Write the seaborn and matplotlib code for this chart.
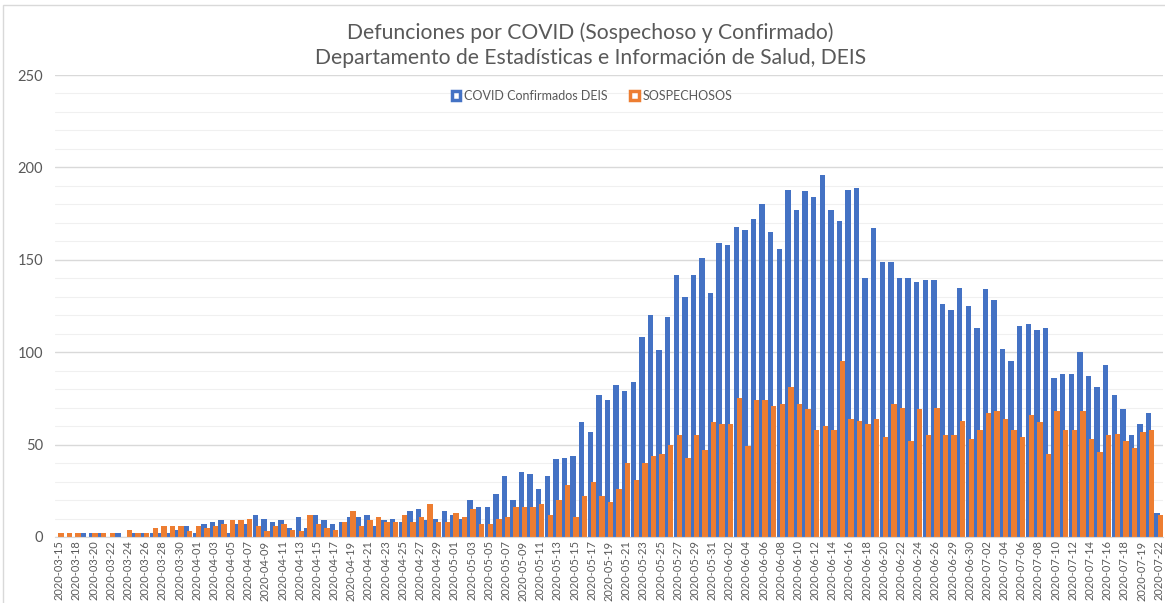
import seaborn as sns
import pandas as pd
import matplotlib.pyplot as plt
from matplotlib.patches import Patch, Rectangle

# fechas (categorias del eje x, solo se muestra una de cada dos)
fechas = (["2020-03-15", "2020-03-17"]
          + list(pd.date_range("2020-03-18", "2020-06-26").strftime("%Y-%m-%d"))
          + ["2020-06-27", "2020-06-29", "2020-06-28", "2020-06-30", "2020-07-01"]
          + list(pd.date_range("2020-07-02", "2020-07-18").strftime("%Y-%m-%d"))
          + ["2020-07-20", "2020-07-19", "2020-07-21", "2020-07-22"])

confirmados = [0, 0, 0, 2, 2, 2, 0, 2, 0, 2, 2, 2, 2, 2, 4, 6, 2, 7, 8, 9,
               2, 7, 7, 12, 10, 8, 9, 5, 11, 5, 12, 9, 7, 8, 11, 11, 12, 6, 9, 10,
               8, 14, 15, 9, 10, 14, 12, 10, 20, 16, 16, 23, 33, 20, 35, 34, 26, 33, 42, 43,
               44, 62, 57, 77, 74, 82, 79, 84, 108, 120, 101, 119, 142, 130, 142, 151, 132, 159, 158, 168,
               166, 172, 180, 165, 156, 188, 177, 187, 184, 196, 177, 171, 188, 189, 140, 167, 149, 149, 140, 140,
               138, 139, 139, 126, 123, 135, 125, 113, 134, 128, 102, 95, 114, 115, 112, 113, 86, 88, 88, 100,
               87, 81, 93, 77, 69, 55, 61, 67, 13]

sospechosos = [2, 2, 2, 0, 2, 2, 2, 0, 4, 2, 2, 5, 6, 6, 6, 3, 6, 5, 6, 7,
               9, 9, 10, 6, 3, 6, 7, 4, 3, 12, 7, 5, 4, 8, 14, 6, 9, 11, 8, 8,
               12, 8, 11, 18, 8, 8, 13, 11, 15, 7, 7, 10, 11, 16, 16, 16, 18, 12, 20, 28,
               11, 22, 30, 22, 19, 26, 40, 31, 40, 44, 45, 50, 55, 43, 55, 47, 62, 61, 61, 75,
               49, 74, 74, 71, 72, 81, 72, 69, 58, 60, 58, 95, 64, 63, 61, 64, 54, 72, 70, 52,
               69, 55, 70, 55, 55, 63, 53, 58, 67, 68, 64, 58, 54, 66, 62, 45, 68, 58, 58, 68,
               53, 46, 55, 56, 52, 48, 57, 58, 12]

series = ["COVID Confirmados DEIS", "SOSPECHOSOS"]
colores = ["#4472C4", "#ED7D31"]

df = pd.DataFrame({"fecha": fechas * 2,
                   "valor": confirmados + sospechosos,
                   "serie": [series[0]] * len(fechas) + [series[1]] * len(fechas)})

sns.set_style("white")
plt.rcParams["font.family"] = ["Lato", "DejaVu Sans"]

W, H = 1165, 603
fig = plt.figure(figsize=(W / 100, H / 100), dpi=100)
ax = fig.add_axes([55 / W, 1 - 537 / H, (1163 - 55) / W, (537 - 75) / H])

sns.barplot(data=df, x="fecha", y="valor", hue="serie", order=fechas,
            palette=colores, saturation=1, width=0.7, gap=-0.8,
            linewidth=0, legend=False, ax=ax)

ax.set_ylim(0, 250)
ax.set_xlim(-0.5, len(fechas) - 0.5)
ax.set_yticks(range(0, 251, 50))
ax.set_yticks(range(0, 251, 10), minor=True)
ax.set_xticks(range(0, len(fechas), 2))
ax.set_xticklabels(fechas[::2], rotation=90, fontsize=8, color="#595959")
ax.tick_params(axis="y", labelsize=10.5, labelcolor="#595959", length=0, pad=8.5)
ax.tick_params(axis="x", length=0, pad=2.5)
ax.tick_params(which="minor", length=0)
ax.grid(which="major", axis="y", color="#D9D9D9", lw=1)
ax.grid(which="minor", axis="y", color="#F0F0F0", lw=0.8)
ax.set_axisbelow(True)
for s in ["top", "right", "left"]:
    ax.spines[s].set_visible(False)
ax.spines["bottom"].set_color("#D9D9D9")
ax.set_xlabel("")
ax.set_ylabel("")

fig.text(590 / W, 1 - 33 / H, "Defunciones por COVID (Sospechoso y Confirmado)",
         ha="center", va="center", fontsize=15.2, color="#595959")
fig.text(591 / W, 1 - 58 / H, "Departamento de Estadísticas e Información de Salud, DEIS",
         ha="center", va="center", fontsize=15.2, color="#595959")

handles = [Patch(facecolor="white", edgecolor=c, lw=2.5) for c in colores]
fig.legend(handles, series, loc="center", bbox_to_anchor=(592 / W, 1 - 96 / H),
           ncol=2, frameon=False, fontsize=9, labelcolor="#595959",
           handlelength=0.7, handleheight=0.7, handletextpad=0.3, columnspacing=1.8)

fig.patches.append(Rectangle((3 / W, -0.1), 1.2, 1 - 5 / H + 0.1, transform=fig.transFigure,
                             fill=False, edgecolor="#D9D9D9", lw=1))

fig.savefig("out.png", dpi=100)
